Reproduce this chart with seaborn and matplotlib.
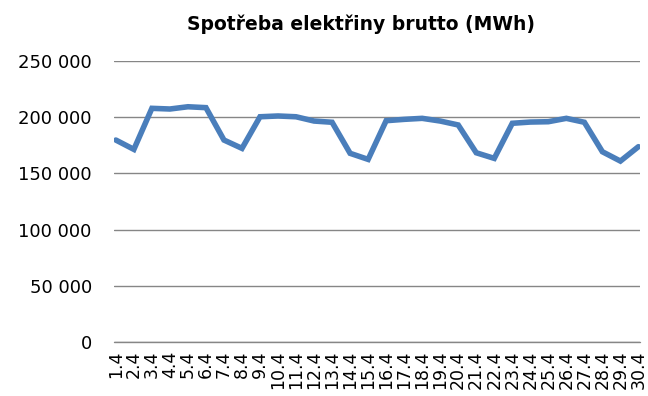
import matplotlib
matplotlib.use("Agg")
import matplotlib.pyplot as plt
from matplotlib.ticker import FuncFormatter
import seaborn as sns
import pandas as pd

# Daily gross electricity consumption in April (MWh)
days = [f"{d}.4" for d in range(1, 31)]
consumption = [
    179700, 171400, 207900, 207300, 209300, 208500, 179700, 172300, 200400, 201100,
    200400, 196600, 195500, 167900, 162500, 196900, 198100, 199000, 196600, 193100,
    168400, 163400, 194600, 195700, 196000, 199000, 195500, 169300, 161000, 173800,
]
title = "Spotřeba elektřiny brutto (MWh)"

df = pd.DataFrame({"pos": range(len(days)), "day": days, "mwh": consumption})

sns.set_theme(style="white")
plt.rcParams["font.family"] = ["DejaVu Sans"]

fig = plt.figure(figsize=(6.48, 3.96), dpi=100)
ax = fig.add_axes([0.176, 0.136, 0.812, 0.710])

sns.lineplot(data=df, x="pos", y="mwh", ax=ax, color="#4A7EBB",
             linewidth=4.0, solid_joinstyle="miter", zorder=3)

ax.set_ylim(0, 250000)
ax.set_yticks(range(0, 250001, 50000))
ax.yaxis.set_major_formatter(
    FuncFormatter(lambda v, _: f"{int(v):,}".replace(",", " ")))
ax.set_xlim(-0.1, len(days) - 0.9)
ax.set_xticks(df["pos"])
ax.set_xticklabels(days, rotation=90)

ax.grid(axis="y", color="#868686", linewidth=1.0)
ax.grid(axis="x", visible=False)
for side in ax.spines:
    ax.spines[side].set_visible(False)
# category axis line along zero
ax.axhline(0, color="#868686", linewidth=1.0, clip_on=False, zorder=2)

ax.tick_params(axis="y", length=0, pad=16, labelsize=13, colors="#000000")
ax.tick_params(axis="x", length=0, pad=6, labelsize=12.5, colors="#000000")
ax.set_xlabel("")
ax.set_ylabel("")

fig.text(0.557, 0.94, title, ha="center", va="center",
         fontsize=13.5, fontweight="bold", color="#000000")

fig.savefig("out.png", dpi=100, facecolor="white")
